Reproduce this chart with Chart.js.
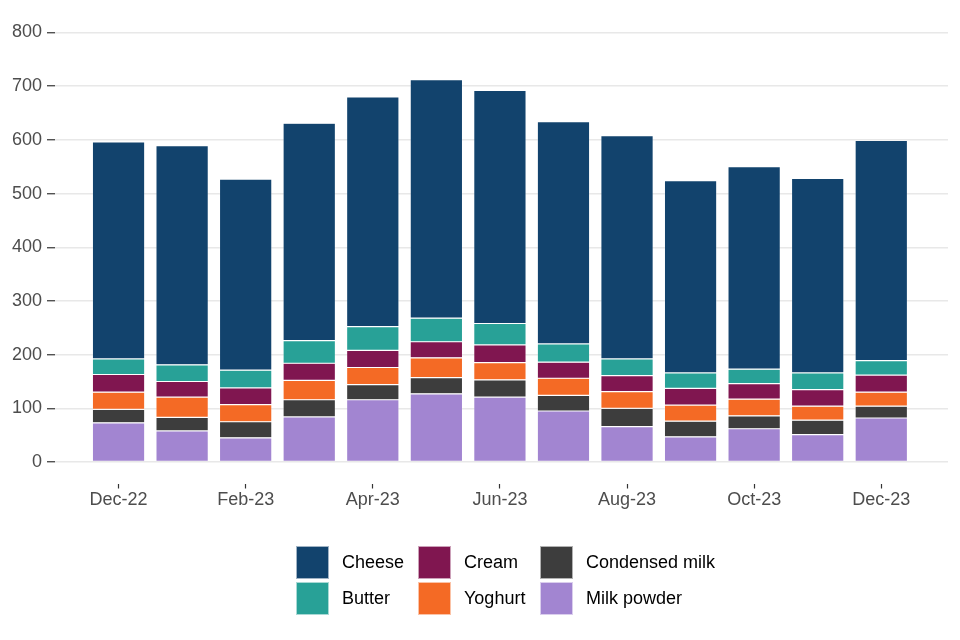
<!DOCTYPE html>
<html>
<head>
<meta charset="utf-8">
<script src="https://cdn.jsdelivr.net/npm/chart.js@4/dist/chart.umd.min.js"></script>
<style>
  html, body { margin: 0; padding: 0; background: #fff; }
  #wrap { position: relative; width: 960px; height: 640px; }
  #legend {
    position: absolute; left: 296px; top: 546px;
    display: grid; grid-template-rows: 36px 36px; grid-auto-flow: column;
    grid-auto-columns: 122px;
    font-family: "Liberation Sans", Arial, sans-serif; font-size: 18px; color: #000;
  }
  .item { display: flex; align-items: flex-start; white-space: nowrap; }
  .sw { flex: none; width: 33px; height: 33px; margin-right: 13px; box-sizing: border-box; border: 0.5px solid rgba(255,255,255,0.6); }
  .lab { line-height: 33px; }
</style>
</head>
<body>
<div id="wrap">
  <canvas id="c" width="960" height="640"></canvas>
  <div id="legend"></div>
</div>
<script>
const months = ['Dec-22','Jan-23','Feb-23','Mar-23','Apr-23','May-23','Jun-23','Jul-23','Aug-23','Sep-23','Oct-23','Nov-23','Dec-23'];
const milkPowder    = [73, 58, 45, 84, 116, 127, 121, 95, 66, 47, 62, 51, 82];
const condensedMilk = [25, 25, 30, 32, 28, 30, 32, 29, 34, 29, 24, 27, 22];
const yoghurt       = [32, 38, 32, 36, 32, 37, 32, 32, 31, 30, 31, 26, 26];
const cream         = [33, 29, 31, 32, 32, 30, 33, 30, 30, 31, 29, 31, 32];
const butter        = [29, 31, 33, 42, 44, 44, 40, 34, 31, 29, 27, 31, 27];
const cheese        = [404, 408, 356, 405, 428, 444, 434, 414, 416, 358, 377, 362, 410];
const yTicks = [0, 100, 200, 300, 400, 500, 600, 700, 800];
const xTickIdx = [0, 2, 4, 6, 8, 10, 12];

const series = [
  { label: 'Milk powder',    data: milkPowder,    color: '#A285D1' },
  { label: 'Condensed milk', data: condensedMilk, color: '#3D3D3D' },
  { label: 'Yoghurt',        data: yoghurt,       color: '#F46A25' },
  { label: 'Cream',          data: cream,         color: '#801650' },
  { label: 'Butter',         data: butter,        color: '#28A197' },
  { label: 'Cheese',         data: cheese,        color: '#12436D' }
];

const FONT = '"Liberation Sans", Arial, sans-serif';

const datasets = series.map(s => ({
  label: s.label,
  data: s.data.map((v, i) => ({ x: i, y: v })),
  backgroundColor: s.color,
  borderColor: 'rgba(255,255,255,0.45)',
  borderWidth: 0.6,
  borderSkipped: false,
  categoryPercentage: 1.0,
  barPercentage: 0.825
}));

new Chart(document.getElementById('c'), {
  type: 'bar',
  data: { datasets },
  options: {
    responsive: false,
    animation: false,
    devicePixelRatio: 1,
    layout: { padding: { top: 11, right: 12, left: 0, bottom: 0 } },
    plugins: { legend: { display: false }, tooltip: { enabled: false } },
    scales: {
      x: {
        type: 'linear',
        stacked: true,
        offset: false,
        min: -1,
        max: 13.05,
        afterBuildTicks: axis => { axis.ticks = xTickIdx.map(v => ({ value: v })); },
        afterFit: axis => { axis.height = 156.5; axis.paddingLeft = 0; axis.paddingRight = 0; },
        border: { display: false },
        grid: { offset: false, drawOnChartArea: false, drawTicks: true, tickLength: 5, tickColor: '#333333', tickWidth: 1.2 },
        ticks: {
          autoSkip: false, maxRotation: 0, padding: 1,
          color: '#4D4D4D', font: { family: FONT, size: 18 },
          callback: v => months[v]
        }
      },
      y: {
        stacked: true,
        min: -40,
        max: 840,
        afterBuildTicks: axis => { axis.ticks = yTicks.map(v => ({ value: v })); },
        afterFit: axis => { axis.width = 55; axis.paddingTop = 0; axis.paddingBottom = 0; },
        border: { display: false },
        grid: { color: '#E8E8E8', lineWidth: 1.5, drawTicks: true, tickLength: 8, tickColor: '#333333', tickWidth: 1.2 },
        ticks: { padding: 5, color: '#4D4D4D', font: { family: FONT, size: 18 } }
      }
    }
  }
});

// Legend (column-major: top of stack first)
const legend = document.getElementById('legend');
series.slice().reverse().forEach(s => {
  const it = document.createElement('div');
  it.className = 'item';
  const sw = document.createElement('div');
  sw.className = 'sw';
  sw.style.background = s.color;
  const lab = document.createElement('span');
  lab.className = 'lab';
  lab.textContent = s.label;
  it.appendChild(sw); it.appendChild(lab);
  legend.appendChild(it);
});
</script>
</body>
</html>
